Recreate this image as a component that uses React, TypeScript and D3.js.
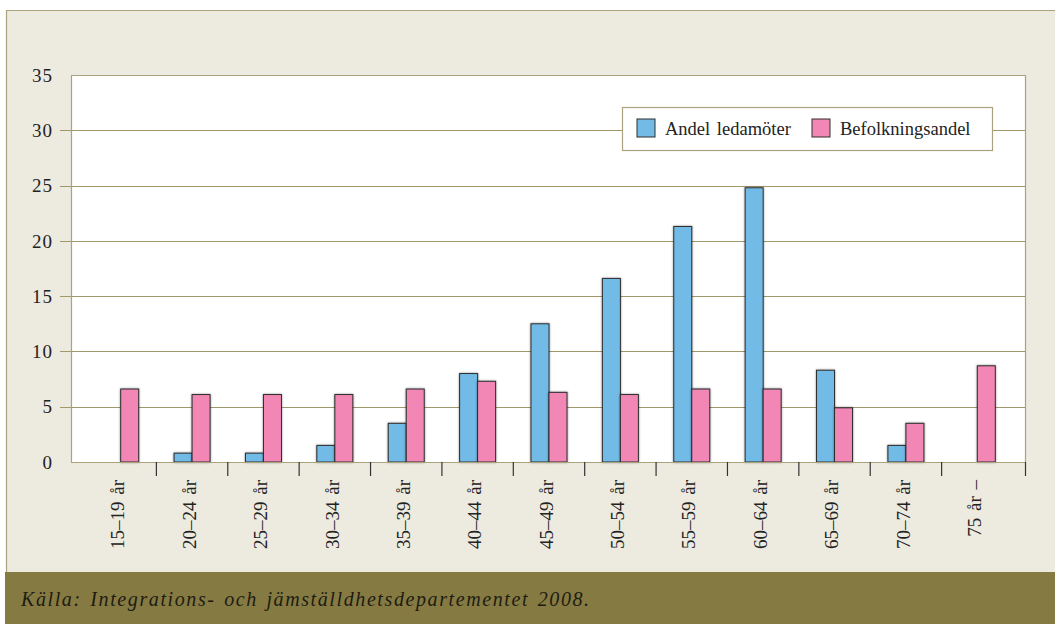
import * as d3 from 'd3';
import React, { useRef, useEffect } from 'react';

const categories = ['15–19 år', '20–24 år', '25–29 år', '30–34 år', '35–39 år', '40–44 år', '45–49 år', '50–54 år', '55–59 år', '60–64 år', '65–69 år', '70–74 år', '75 år –'];
const ledamoter = [0, 0.8, 0.8, 1.5, 3.5, 8.0, 12.5, 16.6, 21.3, 24.8, 8.3, 1.5, 0];
const befolkning = [6.6, 6.1, 6.1, 6.1, 6.6, 7.3, 6.3, 6.1, 6.6, 6.6, 4.9, 3.5, 8.7];
const yTicks = [0, 5, 10, 15, 20, 25, 30, 35];
const seriesNames = ['Andel ledamöter', 'Befolkningsandel'];
const seriesColors = ['#72bbe6', '#f287b5'];
const source = 'Källa: Integrations- och jämställdhetsdepartementet 2008.';

const App = () => {
    const containerRef = useRef<HTMLDivElement>(null);

    useEffect(() => {
        plotChart();
    }, []); // eslint-disable-line react-hooks/exhaustive-deps

    function plotChart() {
        const width = 1055;
        const height = 624;
        const frame = { left: 71, right: 1025, top: 75, bottom: 462 };
        const gridColor = '#a0976a';

        const container = d3.select(containerRef.current);
        container.selectAll('*').remove();

        const svg = container
            .append('svg')
            .attr('width', width)
            .attr('height', height)
            .style('display', 'block')
            .style('font-family', '"Liberation Serif", "Times New Roman", serif');

        // page background
        svg.append('rect').attr('width', width).attr('height', height).attr('fill', '#ffffff');
        svg.append('rect')
            .attr('x', 6).attr('y', 10)
            .attr('width', width - 6).attr('height', 562)
            .attr('fill', '#edeae0');
        svg.append('line')
            .attr('x1', 6).attr('x2', width).attr('y1', 10.5).attr('y2', 10.5)
            .attr('stroke', '#aaa27c').attr('stroke-width', 1.2);
        svg.append('line')
            .attr('x1', 6.5).attr('x2', 6.5).attr('y1', 10).attr('y2', 572)
            .attr('stroke', '#aaa27c').attr('stroke-width', 1.2);

        // footer
        svg.append('rect')
            .attr('x', 5).attr('y', 572)
            .attr('width', width - 5).attr('height', height - 572)
            .attr('fill', '#857a42');
        svg.append('text')
            .attr('x', 21).attr('y', 606)
            .style('font-style', 'italic')
            .style('font-size', '20px')
            .style('letter-spacing', '1.6px')
            .style('word-spacing', '2px')
            .attr('fill', '#1e1c12')
            .text(source);

        // plot area
        svg.append('rect')
            .attr('x', frame.left).attr('y', frame.top)
            .attr('width', frame.right - frame.left).attr('height', frame.bottom - frame.top)
            .attr('fill', '#ffffff');

        const y = d3.scaleLinear().domain([0, 35]).range([frame.bottom, frame.top]);
        const x = d3.scaleBand().domain(categories).range([85, 1013]).padding(0);
        const barW = 18;

        // gridlines
        svg.append('g')
            .selectAll('line')
            .data(yTicks.filter((t) => t > 0 && t < 35))
            .join('line')
            .attr('x1', 60).attr('x2', frame.right)
            .attr('y1', (d) => Math.round(y(d)) + 0.5)
            .attr('y2', (d) => Math.round(y(d)) + 0.5)
            .attr('stroke', gridColor)
            .attr('stroke-width', 1.2);

        // frame lines
        svg.append('path')
            .attr('d', `M${frame.left + 0.5},${frame.bottom} V${frame.top + 0.5} H${frame.right + 0.5} V${frame.bottom}`)
            .attr('fill', 'none')
            .attr('stroke', '#aaa27c')
            .attr('stroke-width', 1.2);

        // y labels
        svg.append('g')
            .selectAll('text')
            .data(yTicks)
            .join('text')
            .attr('x', 53)
            .attr('y', (d) => y(d))
            .attr('dy', '0.35em')
            .attr('text-anchor', 'end')
            .style('font-size', '19px')
            .style('letter-spacing', '1px')
            .attr('fill', '#222')
            .text((d) => d);

        // bars
        const barGroup = svg.append('g');
        [ledamoter, befolkning].forEach((series, si) => {
            barGroup.append('g')
                .selectAll('rect')
                .data(series.map((v, i) => ({ cat: categories[i], v })).filter((d) => d.v > 0))
                .join('rect')
                .attr('x', (d) => (x(d.cat) as number) + x.bandwidth() / 2 - barW + si * barW)
                .attr('y', (d) => y(d.v))
                .attr('width', barW)
                .attr('height', (d) => y(0) - y(d.v))
                .attr('fill', seriesColors[si])
                .attr('stroke', '#2e2e2e')
                .attr('stroke-width', 1)
                .style('filter', 'drop-shadow(0px 0px 0.8px rgba(0, 0, 0, .45))');
        });

        // x axis baseline
        svg.append('line')
            .attr('x1', frame.left).attr('x2', frame.right + 1)
            .attr('y1', frame.bottom + 0.5).attr('y2', frame.bottom + 0.5)
            .attr('stroke', '#aaa27c')
            .attr('stroke-width', 1.2);

        // category ticks
        const tickXs = categories.slice(1).map((c) => x(c) as number).concat([frame.right + 0.5]);
        svg.append('g')
            .selectAll('line')
            .data(tickXs)
            .join('line')
            .attr('x1', (d) => d).attr('x2', (d) => d)
            .attr('y1', frame.bottom).attr('y2', frame.bottom + 14)
            .attr('stroke', '#333')
            .attr('stroke-width', 1.2);

        // category labels
        svg.append('g')
            .selectAll('text')
            .data(categories)
            .join('text')
            .attr('transform', (d) => `translate(${(x(d) as number) + x.bandwidth() / 2 - 3}, 480) rotate(-90)`)
            .attr('dy', '0.35em')
            .attr('text-anchor', 'end')
            .style('font-size', '19px')
            .style('word-spacing', '2px')
            .attr('fill', '#222')
            .text((d) => d);

        // legend
        const legend = svg.append('g').attr('transform', 'translate(622, 107)');
        legend.append('rect')
            .attr('x', 0.5).attr('y', 0.5)
            .attr('width', 370).attr('height', 43)
            .attr('fill', '#ffffff')
            .attr('stroke', '#aaa27c')
            .attr('stroke-width', 1.2);
        const legendX = [15, 190];
        seriesNames.forEach((name, i) => {
            legend.append('rect')
                .attr('x', legendX[i]).attr('y', 12)
                .attr('width', 18).attr('height', 18)
                .attr('fill', seriesColors[i])
                .attr('stroke', '#2e2e2e')
                .attr('stroke-width', 1);
            legend.append('text')
                .attr('x', legendX[i] + 28).attr('y', 28)
                .style('font-size', '18.5px')
                .style('word-spacing', '2px')
                .attr('fill', '#222')
                .text(name);
        });
    }

    return (
        <div style={{ position: 'absolute', left: 0, top: 0 }}>
            <div ref={containerRef} />
        </div>
    );
};
export default App;
